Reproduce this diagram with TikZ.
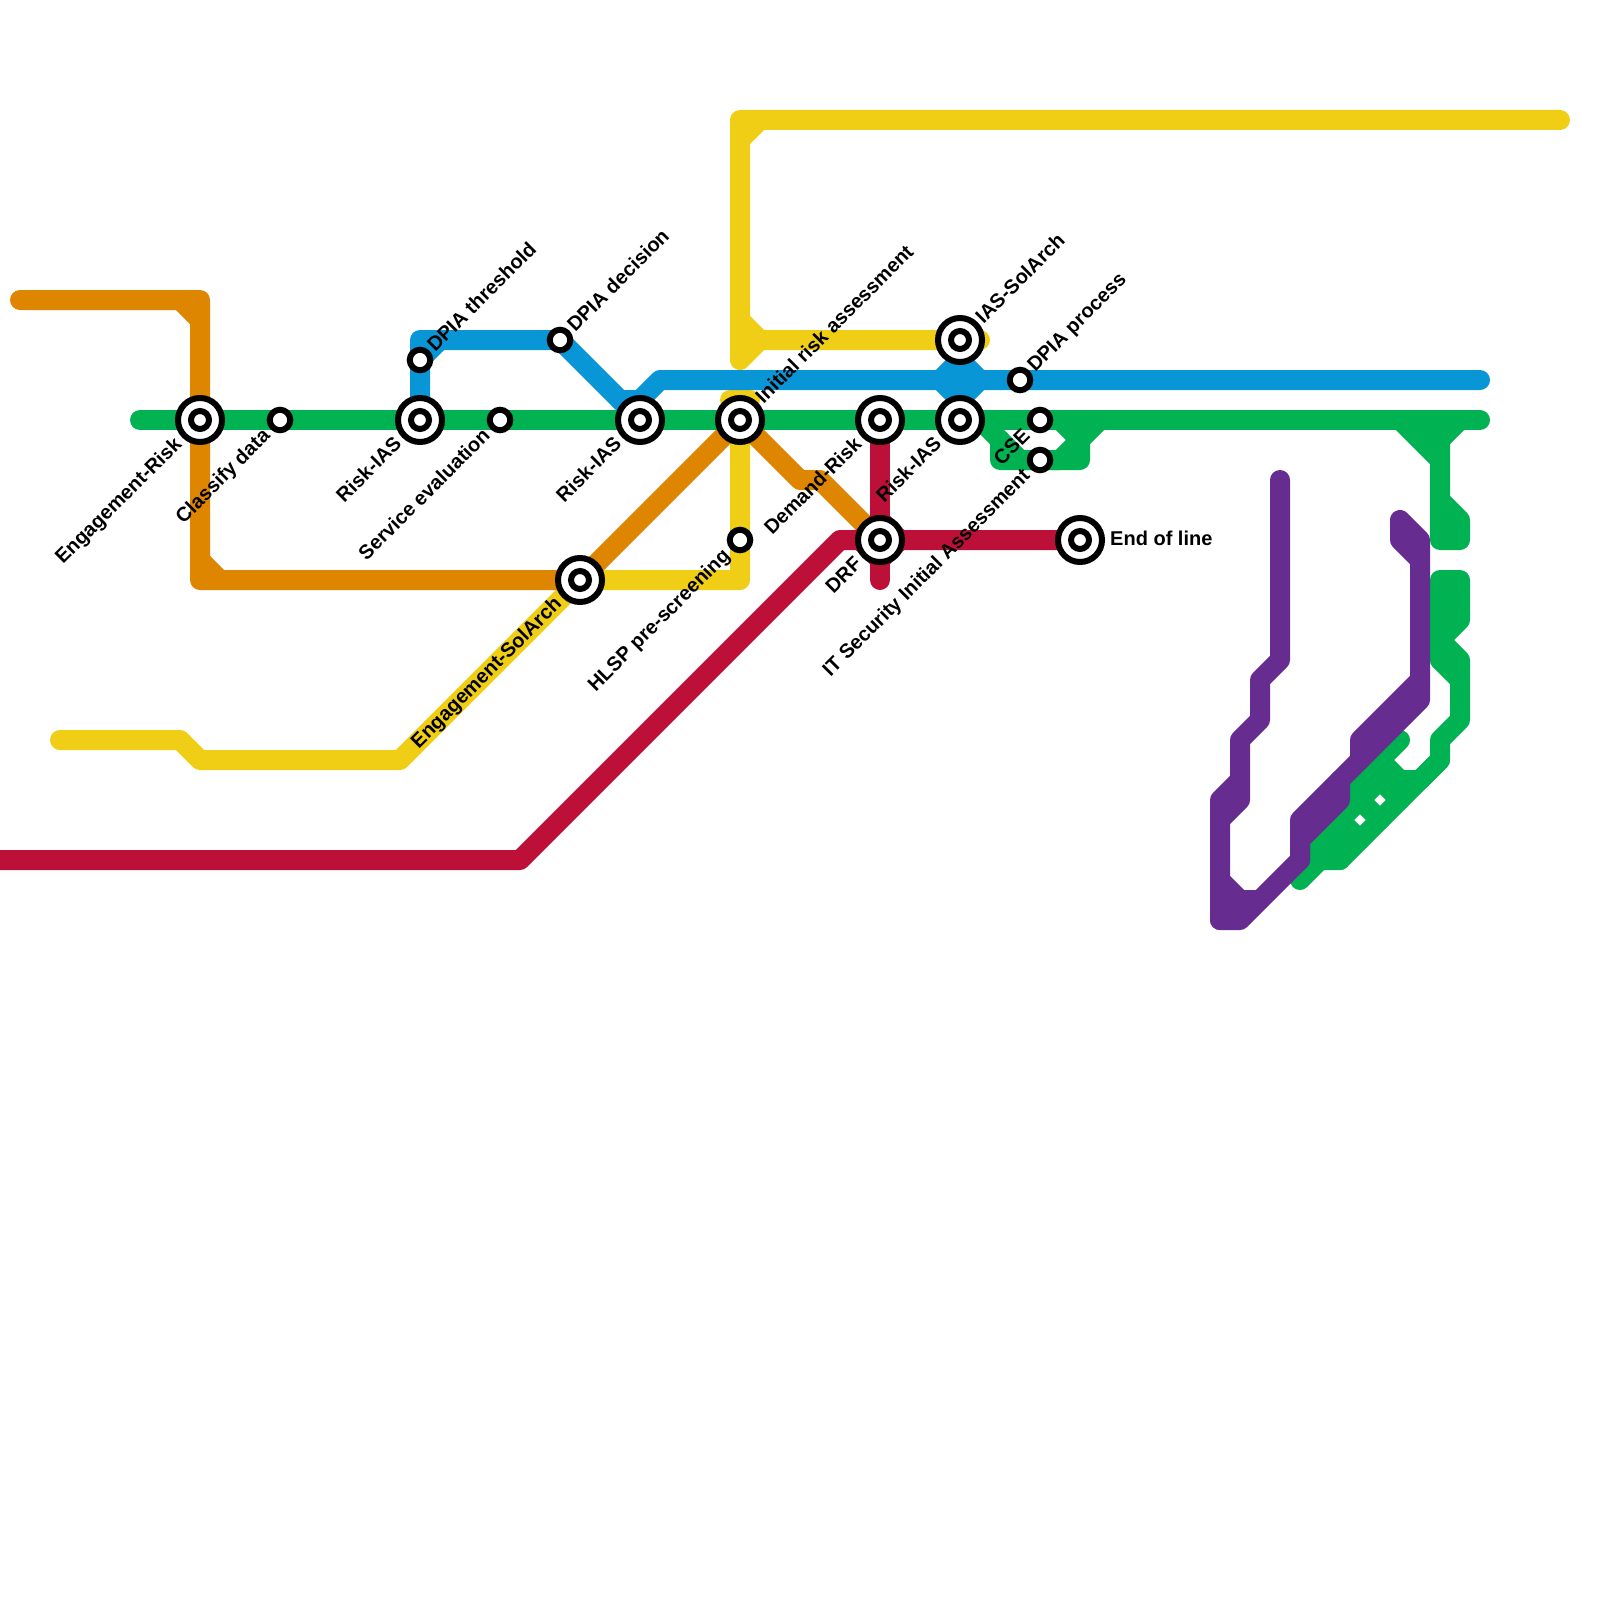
\documentclass[tikz,border=0pt]{standalone}
\usepackage{fontspec}
\setmainfont{Liberation Sans}
\usetikzlibrary{backgrounds}
\definecolor{lineyellow}{HTML}{F0CE15}
\definecolor{lineorange}{HTML}{DF8600}
\definecolor{linegreen}{HTML}{00B251}
\definecolor{lineblue}{HTML}{0896D7}
\definecolor{linered}{HTML}{BD1038}
\definecolor{linepurple}{HTML}{662C90}
\tikzset{
  metro/.style={line width=20pt, line cap=round, line join=round},
  stop/.style={circle, draw=black, fill=white, line width=6pt, inner sep=0pt, minimum size=20.5pt},
  bigstop/.style={stop, minimum size=44pt,
    path picture={\draw[line width=6pt] (path picture bounding box.center) circle (9pt);}},
  stoplabel/.style={font=\fontsize{20}{24}\selectfont\bfseries},
  lsw/.style={stoplabel, inner sep=5pt, rotate=45, yshift=-3pt, anchor=mid east},
  lne/.style={stoplabel, inner sep=2.5pt, rotate=45, yshift=-3pt, anchor=mid west},
  lee/.style={stoplabel, inner sep=5pt, yshift=-3pt, anchor=mid west}
}
\begin{document}
\begin{tikzpicture}[x=20pt, y=-20pt]
  \useasboundingbox (0,0) rectangle (80,80);

  % Interchanges
  \node[bigstop] (engrisk) at (10,21) {};
  \node[bigstop] (riskiasa) at (21,21) {};
  \node[bigstop] (engsol) at (29,29) {};
  \node[bigstop] (riskiasb) at (32,21) {};
  \node[bigstop] (initial) at (37,21) {};
  \node[bigstop] (demand) at (44,21) {};
  \node[bigstop] (drf) at (44,27) {};
  \node[bigstop] (iassol) at (48,17) {};
  \node[bigstop] (riskiasc) at (48,21) {};
  \node[bigstop] (endline) at (54,27) {};

  % Plain stops
  \node[stop] (classify) at (14,21) {};
  \node[stop] (threshold) at (21,18) {};
  \node[stop] (service) at (25,21) {};
  \node[stop] (decision) at (28,17) {};
  \node[stop] (hlsp) at (37,27) {};
  \node[stop] (process) at (51,19) {};
  \node[stop] (cse) at (52,21) {};
  \node[stop] (itsec) at (52,23) {};

  % Labels
  \node[lsw] (lengrisk) at (engrisk.225) {Engagement-Risk};
  \node[lsw] (lclassify) at (classify.225) {Classify data};
  \node[lsw] (lriskiasa) at (riskiasa.225) {Risk-IAS};
  \node[lne] (lthreshold) at (threshold.45) {DPIA threshold};
  \node[lsw] (lservice) at (service.225) {Service evaluation};
  \node[lne] (ldecision) at (decision.45) {DPIA decision};
  \node[lsw] (lengsol) at (engsol.225) {Engagement-SolArch};
  \node[lsw] (lriskiasb) at (riskiasb.225) {Risk-IAS};
  \node[lne] (linitial) at (initial.45) {Initial risk assessment};
  \node[lsw] (lhlsp) at (hlsp.225) {HLSP pre-screening};
  \node[lsw] (ldemand) at (demand.225) {Demand-Risk};
  \node[lsw] (ldrf) at (drf.225) {DRF};
  \node[lne] (liassol) at (iassol.45) {IAS-SolArch};
  \node[lsw] (lriskiasc) at (riskiasc.225) {Risk-IAS};
  \node[lne] (lprocess) at (process.45) {DPIA process};
  \node[lsw] (lcse) at (cse.225) {CSE};
  \node[lsw] (litsec) at (itsec.225) {IT Security Initial Assessment};
  \node[lee] (lendline) at (endline.east) {End of line};

  \begin{pgfonlayer}{background}
    % Yellow line
    \draw[metro, lineyellow] (3,37) -- (9,37) -- (10,38) -- (20,38) -- (engsol.center) -- (37,29) -- (hlsp.center) -- (initial.center);
    \draw[metro, lineyellow] (36.5,20) -- (37.5,20);
    \draw[metro, lineyellow] (78,6) -- (37,6) -- (37,18) -- (38,17) -- (iassol.center) -- (49,17);
    \draw[metro, lineyellow] (37,7) -- (38,6);
    \draw[metro, lineyellow] (37,16) -- (38,17);

    % Orange line
    \draw[metro, lineorange] (1,15) -- (10,15) -- (engrisk.center) -- (10,29) -- (engsol.center) -- (initial.center) -- (40,24) -- (41,24) -- (drf.center);
    \draw[metro, lineorange] (9,15) -- (10,16);
    \draw[metro, lineorange] (10,28) -- (11,29);

    % Green line
    \draw[metro, linegreen] (7,21) -- (engrisk.center) -- (classify.center) -- (riskiasa.center) -- (service.center) -- (riskiasb.center) -- (initial.center) -- (demand.center) -- (riskiasc.center) -- (cse.center) -- (74,21);
    \draw[metro, linegreen] (49,21) -- (51,23) -- (itsec.center) -- (53,23) -- (54,22) -- (53,21);
    \draw[metro, linegreen] (50,22) -- (50,23) -- (54,23) -- (54,22) -- (55,21);
    \draw[metro, linegreen] (70,21) -- (72,23);
    \draw[metro, linegreen] (71,21) -- (72,22);
    \draw[metro, linegreen] (73,21) -- (72,22);
    \draw[metro, linegreen] (72,21) -- (72,27) -- (73,27) -- (73,26) -- (72,25);
    \draw[metro, linegreen] (72,33) -- (72,29) -- (73,29) -- (73,31) -- (72,32) -- (73,33) -- (73,36) -- (72,37) -- (72,38) -- (67,43) -- (66,43) -- (65,44) -- (67,42);
    \draw[metro, linegreen] (72,33) -- (73,34);
    \draw[metro, linegreen] (72,38) -- (71,39) -- (70,39) -- (69,38) -- (70,37) -- (65,42);
    \draw[metro, linegreen] (69,39) -- (65,43);
    \draw[metro, linegreen] (66,42) -- (67,43);
    \draw[metro, linegreen] (67,41) -- (68,42);
    \draw[metro, linegreen] (68,40) -- (69,41);
    \draw[metro, linegreen] (69,39) -- (70,40);

    % Blue line
    \draw[metro, lineblue] (riskiasa.center) -- (threshold.center) -- (21,17) -- (decision.center) -- (riskiasb.center);
    \draw[metro, lineblue] (threshold.center) -- (22,17);
    \draw[metro, lineblue] (31,20) -- (32,20) -- (33,19) -- (process.center) -- (74,19);
    \draw[metro, lineblue] (47,19) -- (iassol.center |- 0,18) -- (49,19) -- (48,20) -- cycle;

    % Red line
    \draw[metro, linered] (-1,43) -- (26,43) -- (42,27) -- (drf.center) -- (endline.center);
    \draw[metro, linered] (demand.center) -- (drf.center) -- (44,29);
    \draw[metro, linered] (44,26) -- (45,27) -- (44,28) -- (43,27) -- cycle;

    % Purple line
    \draw[metro, linepurple] (64,24) -- (64,33) -- (63,34) -- (63,36) -- (62,37) -- (62,40) -- (61,41);
    \draw[metro, linepurple] (62,39) -- (61,40) -- (61,46) -- (62,46) -- (65,43) -- (63,45) -- (62,45) -- (61,44);
    \draw[metro, linepurple] (61,46) -- (62,45);
    \draw[metro, linepurple] (65,43) -- (65,41) -- (71,35) -- (71,27) -- (70,26) -- (70,27) -- (71,28);
    \draw[metro, linepurple] (65,43) -- (65,42) -- (67,40) -- (67,39);
    \draw[metro, linepurple] (71,34) -- (68,37) -- (68,38);
  \end{pgfonlayer}
\end{tikzpicture}
\end{document}
